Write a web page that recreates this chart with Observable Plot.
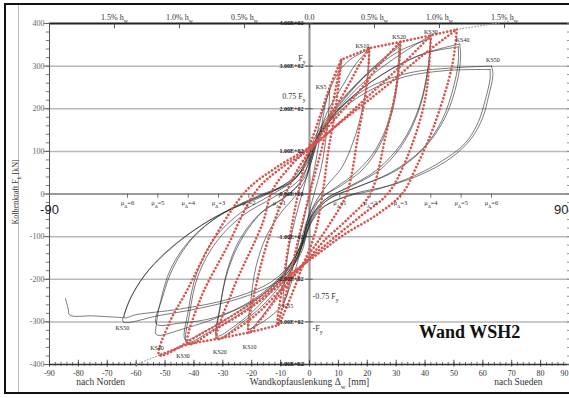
<!DOCTYPE html>
<html><head><meta charset="utf-8">
<script src="https://cdn.jsdelivr.net/npm/d3@7"></script>
<script src="https://cdn.jsdelivr.net/npm/@observablehq/plot@0.6"></script>
<style>
body{margin:0;background:#fff;}
#wrap{position:relative;width:569px;height:398px;overflow:hidden;background:#fff;}
#chart{position:absolute;left:0;top:0;}
#border{position:absolute;left:4px;top:3px;width:600px;height:387px;border:2.5px solid #111;pointer-events:none;}
#inner{position:absolute;left:18px;top:5px;width:0;height:388px;border-left:1px solid #bbb;}
</style></head><body>
<div id="wrap"><div id="inner"></div><div id="chart"></div><div id="border"></div></div>
<script>
// ---------- tick values and labels ----------
const xTickVals = [-90,-80,-70,-60,-50,-40,-30,-20,-10,0,10,20,30,40,50,60,70,80];
const xTickLast = [90];
const yTickVals = [-400,-300,-200,-100,0,100,200,300,400];
const gridY = [-300,-200,-100,100,200,300];
const driftX = [-67.5,-45,-22.5,0,22.5,45,67.5];
const driftLabels = ["1.5% h_{w}","1.0% h_{w}","0.5% h_{w}","0.0","0.5% h_{w}","1.0% h_{w}","1.5% h_{w}"];
const muX = [-63,-52.5,-42,-31.5,-21,-10.5,10.5,21,31.5,42,52.5,63];
const muLabels = ["μ_{Δ}=6","μ_{Δ}=5","μ_{Δ}=4","μ_{Δ}=3","μ_{Δ}=2","μ_{Δ}=1","μ_{Δ}=1","μ_{Δ}=2","μ_{Δ}=3","μ_{Δ}=4","μ_{Δ}=5","μ_{Δ}=6"];
const eY = [400,300,200,100,0,-100,-200,-300,-400];
const eLabels = ["4.00E+02","3.00E+02","2.00E+02","1.00E+02","0.00E+00","-1.00E+02","-2.00E+02","-3.00E+02","-4.00E+02"];
const fyPosY = [318,230];
const fyPosLabels = ["F_{y}","0.75 F_{y}"];
const fyNegY = [-240,-316];
const fyNegLabels = ["-0.75 F_{y}","-F_{y}"];

// ---------- cycle labels ----------
const ksNames = ["KS5","KS10","KS20","KS30","KS40","KS50","KS50","KS40","KS30","KS20","KS10","KS5"];
const ksX = [4,18.3,31,42,53,63.5,-64.8,-52.8,-43.8,-31,-20.7,-7.5];
const ksY = [250,346,367,379,361,314,-315,-362,-381,-372,-358,-262];

// ---------- test (black) hysteresis ----------
const testInitial = [[0,0],[2,70],[4,150],[5.5,210],[7,245],[10,285],[14,315],[20.7,340]];
const testInitialNeg = [[0,0],[-3,-90],[-6,-180],[-9,-255],[-15,-295],[-21,-318]];
const testKS5 = [[7,245],[6.6,190],[5.5,120],[4,60],[2,10],[0,-40],[-2,-100],[-5,-180],[-9,-255],[-8.4,-190],[-7,-120],[-5,-60],[-3,-10],[-1,40],[1.5,110],[4,180],[7,245]];
const testKS10 = [[20.7,340],[20,270],[18,190],[15,120],[11,60],[6,20],[2,-20],[-1,-70],[-3,-130],[-8,-200],[-14,-265],[-21,-318],[-20.3,-250],[-18.5,-170],[-15,-100],[-10,-45],[-5,-5],[-1,40],[2,110],[6,190],[12,260],[16,305],[20.7,340]];
const testKS20 = [[31.5,352],[30.8,280],[28.5,190],[24,110],[18,55],[11,20],[4,-10],[0,-60],[-3,-130],[-8,-195],[-16,-260],[-24,-305],[-32,-340],[-31,-270],[-28.5,-180],[-24,-105],[-17,-45],[-9,-10],[-3,30],[0,80],[3,140],[9,200],[18,270],[25,315],[31.5,352]];
const testKS20b = [[31,345],[30.4,275],[28,185],[23,105],[16,50],[9,15],[3,-15],[-1,-65],[-4,-135],[-10,-200],[-18,-265],[-26,-310],[-32,-333],[-31,-265],[-28,-175],[-23,-100],[-16,-40],[-8,-5],[-2,35],[1,85],[4,145],[10,205],[19,275],[26,318],[31,345]];
const testKS30 = [[42,372],[41.2,300],[38.5,210],[33,125],[25,60],[15,20],[6,-10],[1,-50],[-2,-110],[-6,-170],[-14,-230],[-25,-285],[-35,-325],[-42.5,-348],[-41.5,-280],[-38.5,-190],[-32,-110],[-23,-50],[-13,-10],[-4,30],[0,75],[3,130],[10,200],[20,270],[32,330],[42,372]];
const testKS30b = [[42,365],[41,295],[38,205],[32,120],[23,55],[13,15],[5,-15],[0,-60],[-3,-120],[-8,-180],[-17,-240],[-28,-290],[-37,-325],[-43,-342],[-42,-275],[-39,-185],[-33,-105],[-24,-45],[-14,-5],[-5,35],[-1,80],[2,135],[9,205],[19,275],[31,335],[42,365]];
const testKS40 = [[52,352],[52.3,320],[51,260],[47,180],[40,110],[30,55],[18,20],[7,-10],[1,-55],[-2,-115],[-7,-175],[-17,-240],[-30,-285],[-43,-315],[-53,-330],[-53,-305],[-51.5,-250],[-48,-175],[-41,-105],[-31,-50],[-19,-10],[-7,25],[-1,70],[3,130],[12,210],[25,280],[40,330],[52,352]];
const testKS40b = [[51.5,345],[51.5,310],[50,255],[46,175],[39,105],[28,50],[16,15],[6,-15],[0,-60],[-3,-120],[-9,-185],[-20,-250],[-33,-290],[-45,-303],[-53,-305],[-51,-245],[-47,-170],[-40,-100],[-30,-45],[-18,-5],[-6,30],[-1,75],[2,125],[11,205],[24,275],[39,328],[51.5,345]];
const testKS50 = [[63,300],[63.5,280],[62,230],[60,180],[56,130],[49,85],[40,50],[28,20],[15,0],[5,-30],[0,-75],[-3,-140],[-10,-200],[-22,-240],[-38,-268],[-52,-285],[-64.5,-300],[-64,-280],[-62,-245],[-57,-190],[-50,-140],[-42,-95],[-33,-55],[-22,-20],[-12,10],[-4,45],[0,95],[4,150],[12,210],[22,255],[35,285],[50,296],[63,300]];
const testKS50b = [[62.5,292],[62.5,270],[61,225],[58.5,170],[54,120],[46,78],[36,42],[24,12],[12,-8],[3,-40],[-1,-90],[-5,-150],[-13,-205],[-27,-245],[-45,-270],[-60,-283],[-64,-290],[-63,-262],[-60,-220],[-54,-165],[-46,-115],[-37,-72],[-27,-35],[-16,-5],[-7,30],[-2,70],[2,125],[9,185],[20,240],[33,275],[48,290],[62.5,292]];
const testTail = [[-64.5,-290],[-75,-286],[-83,-284],[-83.5,-270],[-84.5,-245]];

// ---------- model (red dotted) ----------
const modelEnvPos = [[0,0],[4,100],[8,210],[11,315],[20.7,342],[31.5,357],[42,372],[51,386]];
const modelEnvNeg = [[0,0],[-4,-110],[-8,-230],[-11,-308],[-21,-325],[-32,-340],[-42,-352],[-52,-378]];
const modelL1 = [[11,315],[9,200],[6.5,100],[4.5,0],[2,-90],[-3,-180],[-7,-250],[-11,-308],[-9,-200],[-6.5,-90],[-4,0],[-1,90],[3,170],[7,250],[11,315]];
const modelL2 = [[20.7,342],[20,261],[17,144],[12.8,0],[7,-70],[1,-130],[-5,-190],[-12,-250],[-17,-295],[-21,-325],[-18,-200],[-13,-80],[-8,5],[-3,70],[2,120],[7,180],[13,250],[17,300],[20.7,342]];
const modelL3 = [[31.5,357],[30.3,261],[26.6,144],[21,0],[13,-60],[5,-110],[0,-150],[-8,-210],[-18,-280],[-26,-320],[-32,-340],[-26.6,-226],[-16.2,-68],[-12.8,9],[-6,70],[0,110],[8,170],[17,240],[25,310],[31.5,357]];
const modelL4 = [[42,372],[40,221],[33.4,80],[27,0],[18,-50],[9,-100],[2,-140],[-8,-200],[-20,-265],[-32,-315],[-42,-352],[-38,-250],[-28.6,-125],[-18.3,9],[-10,60],[0,105],[10,165],[22,240],[33,310],[42,372]];
const modelL5 = [[51,386],[49.3,299],[43,158],[37,64],[32,0],[23,-50],[12,-95],[3,-140],[-8,-195],[-22,-265],[-38,-330],[-52,-378],[-48.6,-304],[-42.4,-226],[-33.4,-108],[-21.7,9],[-12,60],[0,110],[12,175],[26,250],[40,330],[51,386]];
const modelExtPos = [[51,386],[69,405]];
const modelExtNeg = [[-52,-378],[-60,-400]];

// ---------- build tables ----------
const toRows = (list) => list.flatMap(([name, arr]) => arr.map(([x, y]) => ({x, y, s: name})));
const testLoops = toRows([["KS5",testKS5],["KS10",testKS10],["KS20",testKS20],["KS20b",testKS20b],["KS30",testKS30],["KS30b",testKS30b],["KS40",testKS40],["KS40b",testKS40b],["KS50",testKS50],["KS50b",testKS50b]]);
const testLinear = toRows([["ini",testInitial],["iniN",testInitialNeg],["tail",testTail]]);
const modelLoops = toRows([["L1",modelL1],["L2",modelL2],["L3",modelL3],["L4",modelL4],["L5",modelL5]]);
const modelEnv = toRows([["EP",modelEnvPos],["EN",modelEnvNeg]]);
const modelExt = toRows([["XP",modelExtPos],["XN",modelExtNeg]]);
const ks = ksNames.map((t, i) => ({t, x: ksX[i], y: ksY[i]}));

const red = "#d6564f";
const serif = "'Liberation Serif', 'DejaVu Serif', serif";

const chart = Plot.plot({
  width: 569, height: 398,
  marginLeft: 49, marginRight: 0, marginTop: 23, marginBottom: 34,
  x: {domain: [-90, 90], axis: null},
  y: {domain: [-400, 400], axis: null},
  style: {fontFamily: serif, background: "transparent", overflow: "visible"},
  marks: [
    Plot.ruleY(gridY, {stroke: "#b8b8b8", strokeWidth: 1.5}),
    Plot.ruleY([0], {stroke: "#9a9a9a", strokeWidth: 2.2}),
    Plot.ruleX([0], {stroke: "#9a9a9a", strokeWidth: 2.2}),
    Plot.ruleY([400], {stroke: "#222", strokeWidth: 2}),
    Plot.ruleY([-400], {stroke: "#333", strokeWidth: 1.5}),
    Plot.ruleX([-90], {stroke: "#555", strokeWidth: 1}),
    // ticks
    Plot.ruleY(d3.range(-400, 401, 20), {x1: -91.1, x2: -90, stroke: "#555", strokeWidth: 0.8}),
    Plot.ruleY(yTickVals, {x1: -91.9, x2: -90, stroke: "#555", strokeWidth: 0.8}),
    Plot.ruleY(d3.range(-400, 401, 20), {x1: 89.3, x2: 90, stroke: "#777", strokeWidth: 0.8}),
    Plot.ruleX(d3.range(-90, 91, 2), {y1: -404, y2: -395, stroke: "#333", strokeWidth: 0.7}),
    Plot.ruleX(xTickVals.concat(xTickLast), {y1: -406, y2: -390, stroke: "#333", strokeWidth: 0.8}),
    Plot.ruleX(driftX, {y1: 400, y2: 388, stroke: "#333", strokeWidth: 0.8}),
    Plot.ruleX(muX, {y1: 0, y2: -10, stroke: "#555", strokeWidth: 0.8}),
    Plot.ruleY(eY, {x1: -1.3, x2: 1.3, stroke: "#444", strokeWidth: 0.8}),
    // test curves
    Plot.line(testLoops, {x: "x", y: "y", z: "s", curve: "catmull-rom", stroke: "#222", strokeWidth: 0.7, strokeOpacity: 0.85}),
    Plot.line(testLinear, {x: "x", y: "y", z: "s", curve: "catmull-rom", stroke: "#222", strokeWidth: 0.7, strokeOpacity: 0.85}),
    // model curves
    Plot.line(modelExt, {x: "x", y: "y", z: "s", stroke: "#999", strokeWidth: 1, strokeDasharray: "1 2"}),
    Plot.line(modelLoops, {x: "x", y: "y", z: "s", curve: "catmull-rom", stroke: red, strokeWidth: 2.6, strokeDasharray: "0.1 3.6", strokeLinecap: "round"}),
    Plot.line(modelEnv, {x: "x", y: "y", z: "s", stroke: red, strokeWidth: 2.6, strokeDasharray: "0.1 3.6", strokeLinecap: "round"}),
    // axis labels
    Plot.text(yTickVals, {x: -90, y: d => d, text: d => String(d), textAnchor: "end", dx: -5, fontSize: 8, fill: "#666"}),
    Plot.text(xTickVals, {x: d => d, y: -400, text: d => String(d), dy: 9, fontSize: 8, fill: "#333"}),
    Plot.text(xTickLast, {x: d => d, y: -400, text: d => String(d), dy: 9, dx: -1, textAnchor: "end", fontSize: 8, fill: "#333"}),
    Plot.text(driftX, {x: d => d, y: 400, text: (d, i) => driftLabels[i], dy: -6, fontSize: 8, fill: "#333"}),
    Plot.text(muX, {x: d => d, y: 0, text: (d, i) => muLabels[i], dy: 9, fontSize: 6.5, fill: "#333"}),
    Plot.text(eY, {x: 0, y: d => d, text: (d, i) => eLabels[i], textAnchor: "end", dx: -6, fontSize: 6, fontWeight: "bold", fill: "#222"}),
    Plot.text(fyPosY, {x: 0, y: d => d, text: (d, i) => fyPosLabels[i], textAnchor: "end", dx: -4, fontSize: 8, fill: "#333"}),
    Plot.text(fyNegY, {x: 0, y: d => d, text: (d, i) => fyNegLabels[i], textAnchor: "start", dx: 3, fontSize: 8, fill: "#333"}),
    Plot.text(ks, {x: "x", y: "y", text: "t", fontSize: 6, fill: "#222"}),
    Plot.text(["-90"], {x: -90, y: -36, text: d => d, fontSize: 13, fontFamily: "'Liberation Sans', sans-serif", fill: "#222"}),
    Plot.text(["90"], {x: 90, y: -36, text: d => d, textAnchor: "end", dx: -1, fontSize: 13, fontFamily: "'Liberation Sans', sans-serif", fill: "#222"}),
    Plot.text(["Wandkopfauslenkung Δ_{w} [mm]"], {x: 0, y: -441, text: d => d, fontSize: 9.5, fill: "#333"}),
    Plot.text(["nach Norden"], {x: -72.3, y: -441, text: d => d, fontSize: 9.5, fill: "#333"}),
    Plot.text(["nach Sueden"], {x: 72.3, y: -441, text: d => d, fontSize: 9.5, fill: "#333"}),
    Plot.text(["Kolbenkraft F_{k} [kN]"], {x: -101.8, y: 5, text: d => d, rotate: -90, fontSize: 8, fill: "#333"}),
    Plot.text(["Wand WSH2"], {x: 55.4, y: -325, text: d => d, fontSize: 18, fontWeight: "bold", fill: "#111"})
  ]
});

// convert _{...} markers into real subscripts
d3.select(chart).selectAll("text").each(function() {
  const s = this.textContent;
  if (!s.includes("_{")) return;
  const parts = s.split(/(_\{[^}]*\})/).filter(p => p.length);
  while (this.firstChild) this.removeChild(this.firstChild);
  for (const p of parts) {
    const sub = p.startsWith("_{");
    const ts = document.createElementNS("http://www.w3.org/2000/svg", "tspan");
    ts.textContent = sub ? p.slice(2, -1) : p;
    if (sub) { ts.setAttribute("baseline-shift", "sub"); ts.setAttribute("font-size", "72%"); }
    this.appendChild(ts);
  }
});

document.getElementById("chart").appendChild(chart);
</script></body></html>
